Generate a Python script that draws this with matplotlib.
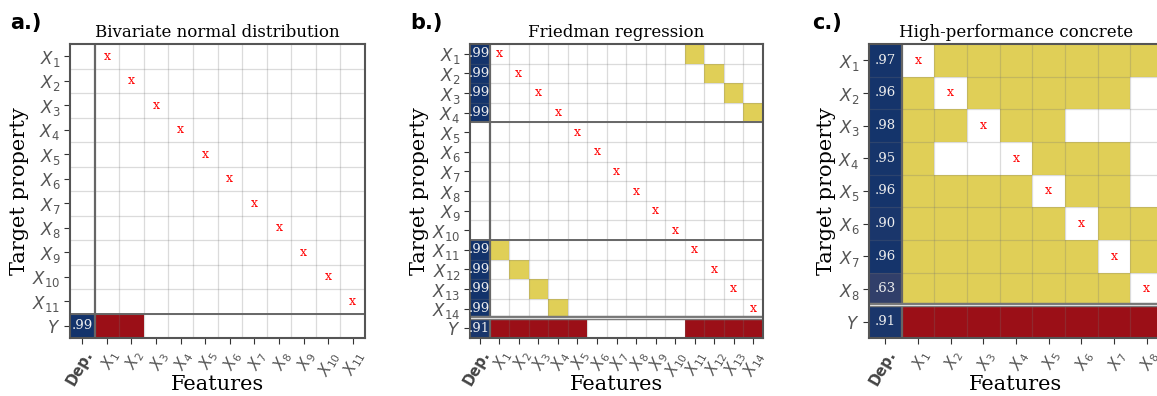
import numpy as np
import matplotlib.pyplot as plt
from matplotlib.colors import ListedColormap, LinearSegmentedColormap

# a.) Bivariate normal distribution: 11 features, Y depends on X1, X2
a_features = ["X1", "X2", "X3", "X4", "X5", "X6", "X7", "X8", "X9", "X10", "X11"]
a_dep = [None, None, None, None, None, None, None, None, None, None, None, 0.99]
a_links = []                      # (target, feature) pairs found among the X's
a_y = [1, 1, 0, 0, 0, 0, 0, 0, 0, 0, 0]
a_seps = [11]

# b.) Friedman regression: 14 features
b_features = ["X1", "X2", "X3", "X4", "X5", "X6", "X7", "X8", "X9", "X10",
              "X11", "X12", "X13", "X14"]
b_dep = [0.99, 0.99, 0.99, 0.99, None, None, None, None, None, None,
         0.99, 0.99, 0.99, 0.99, 0.91]
b_links = [(1, 11), (2, 12), (3, 13), (4, 14), (11, 1), (12, 2), (13, 3), (14, 4)]
b_y = [1, 1, 1, 1, 1, 0, 0, 0, 0, 0, 1, 1, 1, 1]
b_seps = [4, 10, 14]

# c.) High-performance concrete: 8 features, rows = target, cols = feature
c_features = ["X1", "X2", "X3", "X4", "X5", "X6", "X7", "X8"]
c_dep = [0.97, 0.96, 0.98, 0.95, 0.96, 0.90, 0.96, 0.63, 0.91]
c_matrix = [
    "x1111111",
    "1x111110",
    "11x11000",
    "100x1110",
    "1111x110",
    "11111x11",
    "111111x1",
    "1111111x",
]
c_y = [1, 1, 1, 1, 1, 1, 1, 1]
c_seps = [8]

c_links = [(i + 1, j + 1) for i, row in enumerate(c_matrix)
           for j, ch in enumerate(row) if ch == "1"]

W, H = 1157, 396
fig = plt.figure(figsize=(W / 100, H / 100), dpi=100)

cells_cmap = ListedColormap(["white", "#e0cf57", "#9b0f17"])
dep_cmap = LinearSegmentedColormap.from_list("dep", ["#34406a", "#12336b"])
tick_col = "#555555"


def sub(name):
    return "$X_{%s}$" % name[1:]


def draw_panel(ax, features, dep, links, y_row, seps, title, double_last):
    n = len(features)
    rows = n + 1
    grid = np.zeros((rows, n))
    for t, f in links:
        grid[t - 1, f - 1] = 1
    grid[n, :] = np.array(y_row) * 2
    ax.pcolormesh(np.arange(n + 1) + 0.5, np.arange(rows + 1) - 0.5, grid,
                  cmap=cells_cmap, vmin=0, vmax=2)

    dv = np.ma.masked_invalid(np.array([np.nan if v is None else v for v in dep],
                                       dtype=float).reshape(-1, 1))
    ax.pcolormesh([-0.5, 0.5], np.arange(rows + 1) - 0.5, dv,
                  cmap=dep_cmap, vmin=0.6, vmax=1.0)
    for r, v in enumerate(dep):
        if v is not None:
            ax.text(0, r, ".%02d" % round(v * 100), ha="center", va="center",
                    color="#eeeeee", family="DejaVu Serif", fontsize=9.5)

    for i in range(n):
        ax.text(i + 1, i, "x", ha="center", va="center", color="red",
                family="DejaVu Serif", fontsize=9)

    # cell grid
    for k in range(1, n + 1):
        ax.axvline(k + 0.5, color="0.45", alpha=0.25, lw=0.9)
    for k in range(rows - 1):
        ax.axhline(k + 0.5, color="0.45", alpha=0.25, lw=0.9)

    # group separators
    ax.axvline(0.5, color="#666666", lw=1.6)
    for s in seps:
        if double_last and s == seps[-1]:
            ax.axhline(s - 0.5, color="#777777", lw=3.2)
            ax.axhline(s - 0.5, color="#dddddd", lw=0.8)
        else:
            ax.axhline(s - 0.5, color="#666666", lw=1.4)

    ax.set_xlim(-0.5, n + 0.5)
    ax.set_ylim(rows - 0.5, -0.5)
    ax.set_xticks(range(n + 1))
    ax.set_xticklabels(["Dep."] + [sub(f) for f in features], rotation=60,
                       ha="right", rotation_mode="anchor", fontsize=11,
                       color=tick_col)
    ax.get_xticklabels()[0].set_fontweight("bold")
    ax.get_xticklabels()[0].set_color("#444444")
    ax.get_xticklabels()[0].set_fontsize(10.5)
    ax.set_yticks(range(rows))
    ax.set_yticklabels([sub(f) for f in features] + ["$Y$"], fontsize=12,
                       color=tick_col)
    ax.tick_params(length=4, color="#333333", pad=3)
    for sp in ax.spines.values():
        sp.set_color("#555555")
        sp.set_linewidth(1.5)
    ax.set_title(title, family="DejaVu Serif", fontsize=12, pad=5)
    ax.set_xlabel("Features", family="DejaVu Serif", fontsize=15)
    ax.xaxis.set_label_coords(0.5, -0.125)
    ax.set_ylabel("Target property", family="DejaVu Serif", fontsize=15,
                  labelpad=2)


bottom = (H - 338) / H
height = 294 / H
ax_a = fig.add_axes([70 / W, bottom, 295 / W, height])
ax_b = fig.add_axes([470 / W, bottom, 293 / W, height])
ax_c = fig.add_axes([869 / W, bottom, 294 / W, height])

draw_panel(ax_a, a_features, a_dep, a_links, a_y, a_seps,
           "Bivariate normal distribution", False)
draw_panel(ax_b, b_features, b_dep, b_links, b_y, b_seps,
           "Friedman regression", True)
draw_panel(ax_c, c_features, c_dep, c_links, c_y, c_seps,
           "High-performance concrete", True)

for x, lab in [(10, "a.)"), (410, "b.)"), (812, "c.)")]:
    fig.text(x / W, 1 - 23 / H, lab, fontsize=15, fontweight="bold",
             va="center", ha="left")

fig.savefig("out.png", dpi=100)
